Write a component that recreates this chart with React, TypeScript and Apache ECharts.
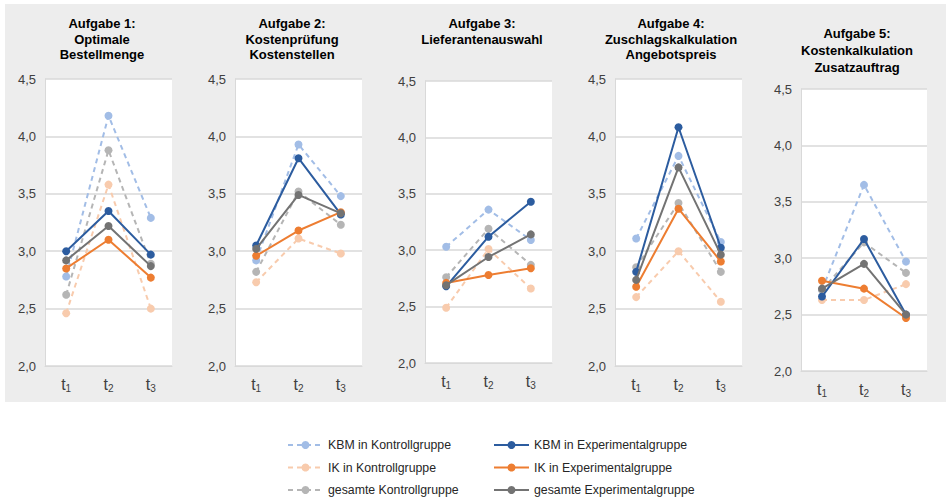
import React, { useEffect, useRef } from "react";
import * as echarts from "echarts";

// ---- data ----
const timepoints = ["1", "2", "3"]; // rendered as t with subscript
const taskTitles = [
  "Aufgabe 1:\nOptimale\nBestellmenge",
  "Aufgabe 2:\nKostenprüfung\nKostenstellen",
  "Aufgabe 3:\nLieferantenauswahl",
  "Aufgabe 4:\nZuschlagskalkulation\nAngebotspreis",
  "Aufgabe 5:\nKostenkalkulation\nZusatzauftrag",
];
const seriesNames = [
  "KBM in Kontrollgruppe",
  "IK in Kontrollgruppe",
  "gesamte Kontrollgruppe",
  "KBM in Experimentalgruppe",
  "IK in Experimentalgruppe",
  "gesamte Experimentalgruppe",
];
const kbmKontroll = [
  [2.78, 4.18, 3.29],
  [2.92, 3.93, 3.48],
  [3.03, 3.36, 3.09],
  [3.11, 3.83, 3.08],
  [2.72, 3.65, 2.97],
];
const ikKontroll = [
  [2.46, 3.58, 2.5],
  [2.73, 3.11, 2.98],
  [2.49, 3.01, 2.66],
  [2.6, 3.0, 2.56],
  [2.63, 2.63, 2.77],
];
const gesamtKontroll = [
  [2.62, 3.88, 2.89],
  [2.82, 3.52, 3.23],
  [2.76, 3.19, 2.87],
  [2.86, 3.42, 2.82],
  [2.72, 3.14, 2.87],
];
const kbmExperimental = [
  [3.0, 3.35, 2.97],
  [3.05, 3.81, 3.32],
  [2.68, 3.12, 3.43],
  [2.82, 4.08, 3.03],
  [2.66, 3.17, 2.5],
];
const ikExperimental = [
  [2.85, 3.1, 2.77],
  [2.96, 3.18, 3.34],
  [2.71, 2.78, 2.84],
  [2.69, 3.37, 2.91],
  [2.8, 2.73, 2.47],
];
const gesamtExperimental = [
  [2.92, 3.22, 2.87],
  [3.02, 3.49, 3.33],
  [2.69, 2.94, 3.14],
  [2.75, 3.73, 2.97],
  [2.73, 2.95, 2.5],
];
const yMin = 2;
const yMax = 4.5;
const yStep = 0.5;

// ---- styles / layout ----
const seriesData = [kbmKontroll, ikKontroll, gesamtKontroll, kbmExperimental, ikExperimental, gesamtExperimental];
const seriesColors = ["#A2BDE6", "#F8CBAD", "#B5B5B5", "#2C5C9F", "#ED7D31", "#737373"];
const seriesDashed = [true, true, true, false, false, false];

const grids = [
  { left: 45, top: 79, width: 127, height: 287 },
  { left: 235, top: 79, width: 127, height: 287 },
  { left: 425, top: 81, width: 127, height: 282 },
  { left: 615, top: 79, width: 127, height: 287 },
  { left: 801, top: 89, width: 126, height: 282 },
];
const titlePos = [
  { x: 102, y: 16, lh: 15.5 },
  { x: 292, y: 16, lh: 15.5 },
  { x: 482, y: 16, lh: 15.5 },
  { x: 671, y: 16, lh: 15.5 },
  { x: 857, y: 25, lh: 17 },
];

const FONT = "Arial, 'Liberation Sans', sans-serif";

export default function App() {
  const ref = useRef<HTMLDivElement>(null);
  useEffect(() => {
    document.body.style.margin = "0";
    if (!ref.current) return;
    const chart = echarts.init(ref.current, undefined, { renderer: "svg" });

    const xAxis = grids.map((_, i) => ({
      type: "category",
      gridIndex: i,
      data: timepoints,
      boundaryGap: true,
      axisLine: { show: true, lineStyle: { color: "#D9D9D9", width: 1 } },
      axisTick: { show: false },
      axisLabel: {
        interval: 0,
        hideOverlap: false,
        margin: 8,
        formatter: (v: string) => `{t|t}{s|${v}}`,
        rich: {
          t: { fontSize: 16, fontFamily: FONT, color: "#404040", lineHeight: 20 },
          s: { fontSize: 10, fontFamily: FONT, color: "#404040", lineHeight: 20, padding: [9, 0, 0, 0] },
        },
      },
    }));
    const yAxis = grids.map((_, i) => ({
      type: "value",
      gridIndex: i,
      min: yMin,
      max: yMax,
      interval: yStep,
      axisLine: { show: true, lineStyle: { color: "#D9D9D9", width: 1 } },
      axisTick: { show: false },
      splitLine: { show: true, lineStyle: { color: "#D9D9D9", width: 1.5 } },
      axisLabel: {
        margin: 9,
        fontSize: 13,
        fontFamily: FONT,
        color: "#404040",
        formatter: (v: number) => v.toFixed(1).replace(".", ","),
      },
    }));

    const series: any[] = [];
    grids.forEach((_, gi) => {
      seriesNames.forEach((name, si) => {
        series.push({
          type: "line",
          name,
          xAxisIndex: gi,
          yAxisIndex: gi,
          data: seriesData[si][gi],
          symbol: "circle",
          symbolSize: 8,
          color: seriesColors[si],
          lineStyle: {
            color: seriesColors[si],
            width: 2,
            type: seriesDashed[si] ? [5, 4] : "solid",
          },
          itemStyle: { color: seriesColors[si] },
          z: 2 + si,
        });
      });
    });

    const legendCommon = {
      orient: "vertical",
      top: 438,
      padding: 0,
      itemWidth: 35,
      itemHeight: 10,
      itemGap: 8.5,
      textStyle: { fontSize: 12.3, fontFamily: FONT, color: "#262626", lineHeight: 14 },
    };

    chart.setOption({
      animation: false,
      backgroundColor: "#ffffff",
      graphic: [
        {
          type: "rect",
          z: -10,
          silent: true,
          shape: { x: 5, y: 4, width: 941, height: 398 },
          style: { fill: "#EDEDED" },
        },
      ],
      title: taskTitles.map((t, i) => ({
        text: t,
        left: titlePos[i].x,
        top: titlePos[i].y,
        textAlign: "center",
        padding: 0,
        textStyle: {
          fontSize: 13,
          fontWeight: "bold",
          fontFamily: FONT,
          color: "#000000",
          lineHeight: titlePos[i].lh,
        },
      })),
      grid: grids.map((g) => ({
        ...g,
        show: true,
        backgroundColor: "#ffffff",
        borderWidth: 0,
        containLabel: false,
      })),
      xAxis,
      yAxis,
      legend: [
        { ...legendCommon, left: 287, data: seriesNames.slice(0, 3) },
        { ...legendCommon, left: 493, data: seriesNames.slice(3, 6) },
      ],
      series,
    });
    return () => chart.dispose();
  }, []);
  return <div ref={ref} style={{ width: 948, height: 501 }} />;
}
